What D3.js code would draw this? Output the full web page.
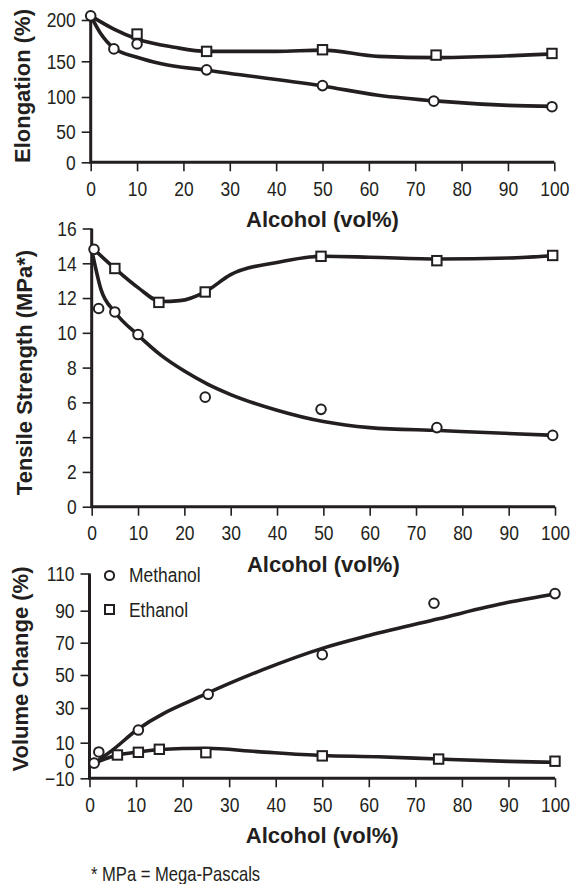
<!DOCTYPE html>
<html><head><meta charset="utf-8">
<script src="https://cdn.jsdelivr.net/npm/d3@7"></script>
<style>body{margin:0;background:#fff}svg{display:block}</style>
</head><body><svg id="c" width="572" height="884"></svg>
<script>
// ---------- data ----------
const alcoholTicks = [0,10,20,30,40,50,60,70,80,90,100];
const elongTicks   = [0,50,100,150,200];
const tensileTicks = [0,2,4,6,8,10,12,14,16];
const volumeTicks  = [-10,0,10,30,50,70,90,110];
const seriesNames  = ["Methanol","Ethanol"];

// Elongation (%) - measured points
const elongMethX = [0,5,10,25,50,74,99.5];
const elongMethY = [205,165,171,138,116,94,86];
const elongEthX  = [10,25,50,74.5,99.5];
const elongEthY  = [183,162,164,157.5,159.5];
// Elongation - trend curves
const elongMethCurveX = [0,2,5,10,15,25,50,62,75,90,100];
const elongMethCurveY = [205,185,166,155,147,137.5,115.5,102.5,94,88,86.5];
const elongEthCurveX  = [0,5,10,18,25,40,50,62,75,100];
const elongEthCurveY  = [205,189,177,167,162,162,163.5,156,154.5,159];

// Tensile Strength (MPa) - measured points
const tensMethX = [0.5,1.5,5,10,24.5,49.5,74.5,99.5];
const tensMethY = [14.8,11.4,11.2,9.9,6.3,5.6,4.55,4.1];
const tensEthX  = [5,14.5,24.5,49.5,74.5,99.5];
const tensEthY  = [13.7,11.75,12.35,14.4,14.15,14.45];
// Tensile - trend curves
const tensMethCurveX = [0.3,2,5,10,15,20,25,30,40,50,60,75,100];
const tensMethCurveY = [14.4,12.5,11.2,9.87,8.7,7.8,7.05,6.45,5.55,4.9,4.55,4.38,4.1];
const tensEthCurveX  = [0.5,5,10,15,19,24.5,30,40,50,60,75,90,100];
const tensEthCurveY  = [14.8,13.7,12.6,11.8,11.85,12.36,13.35,14.05,14.4,14.35,14.25,14.3,14.45];

// Volume Change (%) - measured points
const volMethX = [1,2,10.5,25.5,50,74,100];
const volMethY = [-1.5,4.8,17.3,38.3,62.6,94,99.2];
const volEthX  = [6,10.5,15,25,50,75,100];
const volEthY  = [3.1,4.6,6.3,4.4,2.6,0.8,-0.4];
// Volume - trend curves
const volMethCurveX = [1,5,10,25,37,50,60,75,90,100];
const volMethCurveY = [-1.5,6,17,38.5,53,66.5,74.5,85,94.5,99];
const volEthCurveX  = [1,6,10,15,25,36,50,62,75,90,100];
const volEthCurveY  = [-1.5,3.1,4.6,6.2,6.9,5,2.8,2.1,0.8,-0.5,-1];

// ---------- drawing ----------
const ink = "#231f20";
const svg = d3.select("#c");
svg.append("rect").attr("width",572).attr("height",884).attr("fill","#fff");

const zip = (xs, ys) => xs.map((x,i)=>[x, ys[i]]);
// condense text horizontally around its anchor (reference uses a narrow face)
function narrow(sel, f) {
  sel.each(function(){
    const t = d3.select(this);
    const x = +(t.attr("x") || 0);
    t.attr("x", x / f).attr("transform", `scale(${f},1)`);
  });
}

const panels = [
  { title:"Elongation (%)", yTicks:elongTicks, noTick:[],
    x: d3.scaleLinear().domain([0,100]).range([90.7,554.3]),
    y: d3.scaleLinear().domain([0,50,100,150,200]).range([162.3,131.7,97,61.3,20]),
    yTop:20, titleX:30.2, titleY:86,
    meth: zip(elongMethX, elongMethY), eth: zip(elongEthX, elongEthY),
    methC: zip(elongMethCurveX, elongMethCurveY), ethC: zip(elongEthCurveX, elongEthCurveY) },
  { title:"Tensile Strength (MPa*)", yTicks:tensileTicks, noTick:[],
    x: d3.scaleLinear().domain([0,100]).range([91.7,555]),
    y: d3.scaleLinear().domain([0,16]).range([506.7,228.5]),
    yTop:228.5, titleX:31.8, titleY:372.5,
    meth: zip(tensMethX, tensMethY), eth: zip(tensEthX, tensEthY),
    methC: zip(tensMethCurveX, tensMethCurveY), ethC: zip(tensEthCurveX, tensEthCurveY) },
  { title:"Volume Change (%)", yTicks:volumeTicks, noTick:[0],
    x: d3.scaleLinear().domain([0,100]).range([89.5,555]),
    y: d3.scaleLinear().domain([-10,10,30,50,70,90,110]).range([778.3,742.7,708,675,642.7,610.7,573.5]),
    yTop:573.5, titleX:28.2, titleY:669,
    meth: zip(volMethX, volMethY), eth: zip(volEthX, volEthY),
    methC: zip(volMethCurveX, volMethCurveY), ethC: zip(volEthCurveX, volEthCurveY) }
];

const tickFont = "'Liberation Sans',Arial,sans-serif";
const titleFont = "'Liberation Sans',Arial,sans-serif";
const NARROW = 0.83;

panels.forEach(p => {
  const g = svg.append("g");
  const y0 = p.y.range()[0];
  const xl = p.x.range()[0], xr = p.x.range()[1];

  // x axis
  const xa = g.append("g").attr("transform",`translate(0,${y0})`)
    .call(d3.axisBottom(p.x).tickValues(alcoholTicks).tickSize(9).tickSizeOuter(0).tickPadding(10));
  xa.select(".domain").remove();
  xa.selectAll(".tick line").attr("stroke",ink).attr("stroke-width",1.6);
  xa.selectAll(".tick text").attr("fill",ink).style("font-family",tickFont).style("font-size","20.5px");
  narrow(xa.selectAll(".tick text"), 0.85);

  // y axis
  const ya = g.append("g").attr("transform",`translate(${xl},0)`)
    .call(d3.axisLeft(p.y).tickValues(p.yTicks).tickSize(9).tickSizeOuter(0).tickPadding(6));
  ya.select(".domain").remove();
  ya.selectAll(".tick line").attr("stroke",ink).attr("stroke-width",1.6)
    .attr("opacity", d => p.noTick.includes(d) ? 0 : 1);
  ya.selectAll(".tick text").attr("fill",ink).style("font-family",tickFont).style("font-size","21px");
  narrow(ya.selectAll(".tick text"), NARROW);

  // axis lines
  g.append("path").attr("d",`M${xl},${p.yTop}V${y0}H${xr}`)
    .attr("fill","none").attr("stroke",ink).attr("stroke-width",3);

  // titles
  g.append("text").attr("x",(xl+xr)/2).attr("y",y0+65).attr("text-anchor","middle")
    .attr("fill",ink).style("font-family",titleFont).style("font-weight","bold").style("font-size","22px")
    .text("Alcohol (vol%)");
  g.append("text").attr("transform",`translate(${p.titleX},${p.titleY}) rotate(-90)`).attr("text-anchor","middle")
    .attr("fill",ink).style("font-family",titleFont).style("font-weight","bold").style("font-size","22px")
    .text(p.title);

  // curves
  const line = d3.line().x(d=>p.x(d[0])).y(d=>p.y(d[1])).curve(d3.curveMonotoneX);
  [p.methC, p.ethC].forEach(c => {
    g.append("path").attr("d", line(c)).attr("fill","none").attr("stroke",ink)
      .attr("stroke-width",3.6).attr("stroke-linecap","round").attr("stroke-linejoin","round");
  });

  // markers
  g.selectAll(".sq").data(p.eth).join("rect")
    .attr("x",d=>p.x(d[0])-4.7).attr("y",d=>p.y(d[1])-4.7).attr("width",9.4).attr("height",9.4)
    .attr("fill","#fff").attr("stroke",ink).attr("stroke-width",2);
  g.selectAll(".ci").data(p.meth).join("circle")
    .attr("cx",d=>p.x(d[0])).attr("cy",d=>p.y(d[1])).attr("r",4.8)
    .attr("fill","#fff").attr("stroke",ink).attr("stroke-width",2);
});

// legend (inside bottom panel)
const lg = svg.append("g");
lg.append("circle").attr("cx",109.5).attr("cy",575.5).attr("r",4.6)
  .attr("fill","#fff").attr("stroke",ink).attr("stroke-width",2);
lg.append("rect").attr("x",105).attr("y",605).attr("width",9).attr("height",9)
  .attr("fill","#fff").attr("stroke",ink).attr("stroke-width",2);
const lt = lg.selectAll("text.lt").data(seriesNames).join("text")
  .attr("x",129).attr("y",(d,i)=> i===0 ? 582.5 : 616.7)
  .attr("fill",ink).style("font-family",tickFont).style("font-size","21px").text(d=>d);
narrow(lt, NARROW);

// footnote
const fn = svg.append("text").attr("x",91).attr("y",881).attr("fill",ink)
  .style("font-family",tickFont).style("font-size","20px").text("* MPa = Mega-Pascals");
narrow(fn, NARROW);
</script></body></html>
